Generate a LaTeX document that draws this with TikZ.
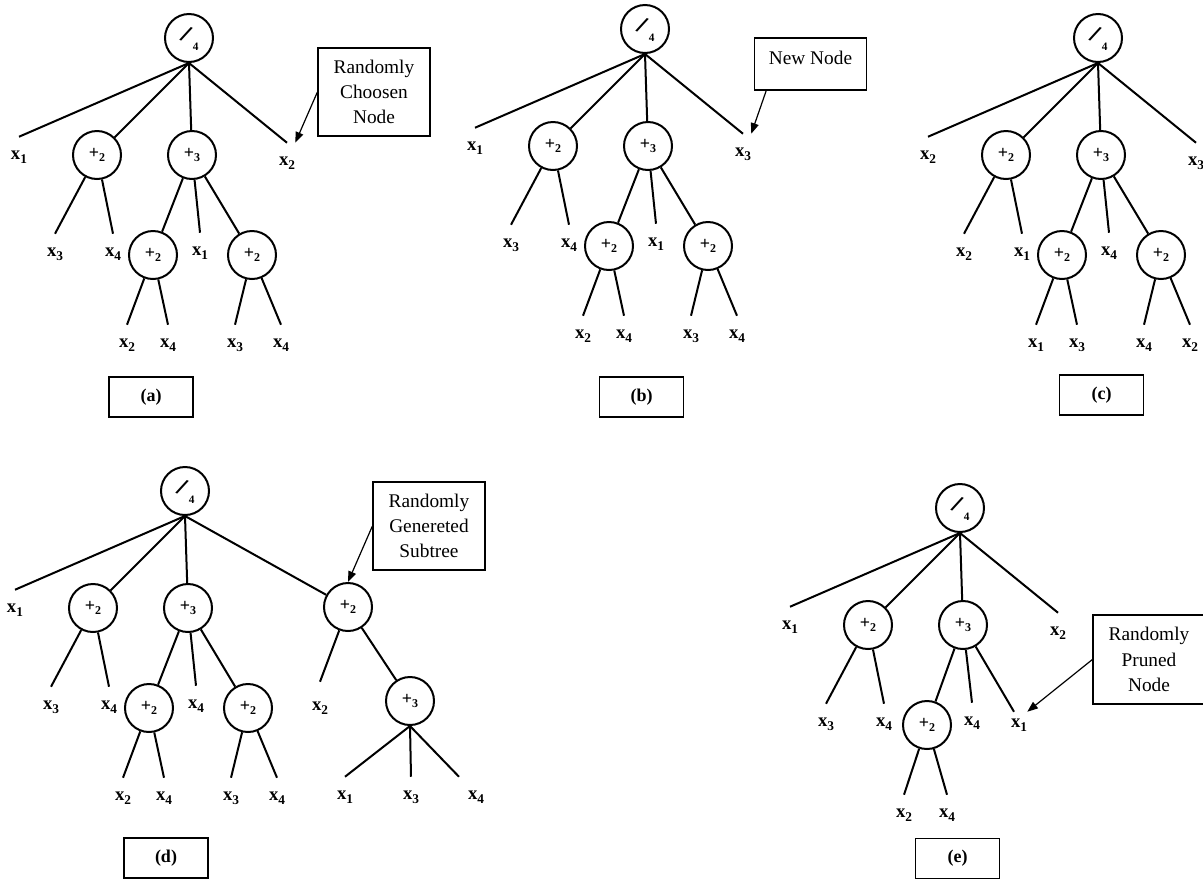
\documentclass[tikz,border=0pt]{standalone}
\usepackage{fontspec}
\usepackage{graphicx}
\setmainfont{Liberation Serif}
\newfontfamily\slashfont{DejaVu Sans}
\usetikzlibrary{arrows.meta,calc}

% variable x_i, operator +_n and the root operator /_4
\newcommand\leafx[1]{x\raisebox{-0.45ex}{\fontsize{10}{10}\selectfont #1}}
\newcommand\plusop[1]{+\raisebox{-0.45ex}{\fontsize{9}{9}\selectfont #1}}
\newcommand\divop{\raisebox{0.3ex}{\rotatebox{-25}{\slashfont\fontsize{15}{15}\selectfont\bfseries /}}\raisebox{-1.1ex}{\fontsize{8.5}{8.5}\selectfont 4}}

\tikzset{
  op/.style={draw, circle, line width=1.5pt, minimum size=36pt, inner sep=0pt,
             font=\fontsize{13.5}{13.5}\selectfont\bfseries},
  leaf/.style={minimum height=30pt, inner sep=0pt,
               font=\fontsize{14}{14}\selectfont\bfseries},
  edge/.style={line width=1.5pt},
  tag/.style={draw, line width=0.9pt, minimum width=63pt, minimum height=30pt,
              inner sep=0pt, font=\fontsize{13.5}{13.5}\selectfont\bfseries},
  note/.style={draw, line width=0.9pt, align=center, inner sep=0pt,
               minimum width=84pt, font=\fontsize{14.5}{19}\selectfont},
  pointer/.style={line width=0.9pt, -{Triangle[length=8pt,width=6pt]}}
}

\begin{document}
\begin{tikzpicture}[x=0.75pt, y=-0.75pt]
\clip (0,0) rectangle (1203,879);
\fill[white] (0,0) rectangle (1203,879);

% ---------------- tree (a) ----------------
\begin{scope}
\node[op] (a-r) at (189,38) {\divop};
\node[leaf] (a-1) at (19,157) {\leafx1};
\node[op] (a-p) at (97,155) {\plusop2};
\node[op] (a-q) at (192,155) {\plusop3};
\node[leaf] (a-4) at (287,163) {\leafx2};
\node[leaf] (a-p1) at (55,254) {\leafx3};
\node[leaf] (a-p2) at (113,254) {\leafx4};
\node[op] (a-s) at (153,255) {\plusop2};
\node[leaf] (a-q2) at (200,253) {\leafx1};
\node[op] (a-t) at (252,255) {\plusop2};
\node[leaf] (a-s1) at (127,345) {\leafx2};
\node[leaf] (a-s2) at (168,345) {\leafx4};
\node[leaf] (a-t1) at (235,345) {\leafx3};
\node[leaf] (a-t2) at (281,345) {\leafx4};
\draw[edge] (a-r.south) -- (a-1.north);
\draw[edge] (a-r.south) -- (a-p);
\draw[edge] (a-r.south) -- (a-q);
\draw[edge] (a-r.south) -- (a-4.north);
\draw[edge] (a-p) -- (a-p1.north);
\draw[edge] (a-p) -- (a-p2.north);
\draw[edge] (a-q) -- (a-s);
\draw[edge] (a-q) -- (a-q2.north);
\draw[edge] (a-q) -- (a-t);
\draw[edge] (a-s) -- (a-s1.north);
\draw[edge] (a-s) -- (a-s2.north);
\draw[edge] (a-t) -- (a-t1.north);
\draw[edge] (a-t) -- (a-t2.north);
\node[note, minimum height=66pt] (a-n) at (374,92) {Randomly\\Choosen\\Node};
\draw[pointer] (a-n.west) -- (a-4.north east);
\node[tag] (a-tag) at (151,397) {(a)};
\end{scope}

% ---------------- tree (b) ----------------
\begin{scope}[shift={(456,-9)}]
\node[op] (b-r) at (189,38) {\divop};
\node[leaf] (b-1) at (19,157) {\leafx1};
\node[op] (b-p) at (97,155) {\plusop2};
\node[op] (b-q) at (192,155) {\plusop3};
\node[leaf] (b-4) at (287,163) {\leafx3};
\node[leaf] (b-p1) at (55,254) {\leafx3};
\node[leaf] (b-p2) at (113,254) {\leafx4};
\node[op] (b-s) at (153,255) {\plusop2};
\node[leaf] (b-q2) at (200,253) {\leafx1};
\node[op] (b-t) at (252,255) {\plusop2};
\node[leaf] (b-s1) at (127,345) {\leafx2};
\node[leaf] (b-s2) at (168,345) {\leafx4};
\node[leaf] (b-t1) at (235,345) {\leafx3};
\node[leaf] (b-t2) at (281,345) {\leafx4};
\draw[edge] (b-r.south) -- (b-1.north);
\draw[edge] (b-r.south) -- (b-p);
\draw[edge] (b-r.south) -- (b-q);
\draw[edge] (b-r.south) -- (b-4.north);
\draw[edge] (b-p) -- (b-p1.north);
\draw[edge] (b-p) -- (b-p2.north);
\draw[edge] (b-q) -- (b-s);
\draw[edge] (b-q) -- (b-q2.north);
\draw[edge] (b-q) -- (b-t);
\draw[edge] (b-s) -- (b-s1.north);
\draw[edge] (b-s) -- (b-s2.north);
\draw[edge] (b-t) -- (b-t1.north);
\draw[edge] (b-t) -- (b-t2.north);
\node[note, minimum height=39pt, text depth=10pt] (b-n) at (354.5,73) {New Node};
\draw[pointer] (b-n.211) -- (b-4.north east);
\node[tag] (b-tag) at (185.5,406) {(b)};
\end{scope}

% ---------------- tree (c) ----------------
\begin{scope}[shift={(909,0)}]
\node[op] (c-r) at (189,38) {\divop};
\node[leaf] (c-1) at (19,157) {\leafx2};
\node[op] (c-p) at (97,155) {\plusop2};
\node[op] (c-q) at (192,155) {\plusop3};
\node[leaf] (c-4) at (287,163) {\leafx3};
\node[leaf] (c-p1) at (55,254) {\leafx2};
\node[leaf] (c-p2) at (113,254) {\leafx1};
\node[op] (c-s) at (153,255) {\plusop2};
\node[leaf] (c-q2) at (200,253) {\leafx4};
\node[op] (c-t) at (252,255) {\plusop2};
\node[leaf] (c-s1) at (127,345) {\leafx1};
\node[leaf] (c-s2) at (168,345) {\leafx3};
\node[leaf] (c-t1) at (235,345) {\leafx4};
\node[leaf] (c-t2) at (281,345) {\leafx2};
\draw[edge] (c-r.south) -- (c-1.north);
\draw[edge] (c-r.south) -- (c-p);
\draw[edge] (c-r.south) -- (c-q);
\draw[edge] (c-r.south) -- (c-4.north);
\draw[edge] (c-p) -- (c-p1.north);
\draw[edge] (c-p) -- (c-p2.north);
\draw[edge] (c-q) -- (c-s);
\draw[edge] (c-q) -- (c-q2.north);
\draw[edge] (c-q) -- (c-t);
\draw[edge] (c-s) -- (c-s1.north);
\draw[edge] (c-s) -- (c-s2.north);
\draw[edge] (c-t) -- (c-t1.north);
\draw[edge] (c-t) -- (c-t2.north);
\node[tag] (c-tag) at (192.5,395) {(c)};
\end{scope}

% ---------------- tree (d) ----------------
\begin{scope}[shift={(-4,453)}]
\node[op] (d-r) at (189,38) {\divop};
\node[leaf] (d-1) at (19,157) {\leafx1};
\node[op] (d-p) at (97,155) {\plusop2};
\node[op] (d-q) at (192,155) {\plusop3};
\node[leaf] (d-p1) at (55,254) {\leafx3};
\node[leaf] (d-p2) at (113,254) {\leafx4};
\node[op] (d-s) at (153,255) {\plusop2};
\node[leaf] (d-q2) at (200,253) {\leafx4};
\node[op] (d-t) at (252,255) {\plusop2};
\node[leaf] (d-s1) at (127,345) {\leafx2};
\node[leaf] (d-s2) at (168,345) {\leafx4};
\node[leaf] (d-t1) at (235,345) {\leafx3};
\node[leaf] (d-t2) at (281,345) {\leafx4};
% the generated subtree
\node[op] (d-u) at (352,154) {\plusop2};
\node[leaf, minimum height=39pt] (d-u1) at (324,255) {\leafx2};
\node[op] (d-v) at (414,248) {\plusop3};
\node[leaf] (d-v1) at (349,344) {\leafx1};
\node[leaf] (d-v2) at (415,344) {\leafx3};
\node[leaf] (d-v3) at (480,344) {\leafx4};
\draw[edge] (d-r.south) -- (d-1.north);
\draw[edge] (d-r.south) -- (d-p);
\draw[edge] (d-r.south) -- (d-q);
\draw[edge] (d-r.south) -- (d-u);
\draw[edge] (d-p) -- (d-p1.north);
\draw[edge] (d-p) -- (d-p2.north);
\draw[edge] (d-q) -- (d-s);
\draw[edge] (d-q) -- (d-q2.north);
\draw[edge] (d-q) -- (d-t);
\draw[edge] (d-s) -- (d-s1.north);
\draw[edge] (d-s) -- (d-s2.north);
\draw[edge] (d-t) -- (d-t1.north);
\draw[edge] (d-t) -- (d-t2.north);
\draw[edge] (d-u) -- (d-u1.north);
\draw[edge] (d-u) -- (d-v);
\draw[edge] (d-v.south) -- (d-v1.north);
\draw[edge] (d-v.south) -- (d-v2.north);
\draw[edge] (d-v.south) -- ($(d-v3.north)+(-17,0)$);
\node[note, minimum height=66pt] (d-n) at (433,73) {Randomly\\Genereted\\Subtree};
\draw[pointer] (d-n.west) -- (d-u.north);
\node[tag] (d-tag) at (170,405) {(d)};
\end{scope}

% ---------------- tree (e) ----------------
\begin{scope}[shift={(771,470)}]
\node[op] (e-r) at (189,38) {\divop};
\node[leaf] (e-1) at (19,157) {\leafx1};
\node[op] (e-p) at (97,155) {\plusop2};
\node[op] (e-q) at (192,155) {\plusop3};
\node[leaf] (e-4) at (287,163) {\leafx2};
\node[leaf] (e-p1) at (55,254) {\leafx3};
\node[leaf] (e-p2) at (113,254) {\leafx4};
\node[op] (e-s) at (156,255) {\plusop2};
\node[leaf] (e-q2) at (201,253) {\leafx4};
\node[leaf, minimum height=19.5pt] (e-q3) at (248,255) {\leafx1};
\node[leaf] (e-s1) at (133,345) {\leafx2};
\node[leaf] (e-s2) at (176,345) {\leafx4};
\draw[edge] (e-r.south) -- (e-1.north);
\draw[edge] (e-r.south) -- (e-p);
\draw[edge] (e-r.south) -- (e-q);
\draw[edge] (e-r.south) -- (e-4.north);
\draw[edge] (e-p) -- (e-p1.north);
\draw[edge] (e-p) -- (e-p2.north);
\draw[edge] (e-q) -- (e-s);
\draw[edge] (e-q) -- (e-q2.north);
\draw[edge] (e-q) -- ($(e-q3.north)+(-5,0)$);
\draw[edge] (e-s) -- (e-s1.north);
\draw[edge] (e-s) -- (e-s2.north);
\node[note, minimum height=66.75pt] (e-n) at (378,189.5) {Randomly\\Pruned\\Node};
\draw[pointer] (e-n.west) -- (e-q3.north east);
\node[tag] (e-tag) at (186.5,388.5) {(e)};
\end{scope}
\end{tikzpicture}
\end{document}
